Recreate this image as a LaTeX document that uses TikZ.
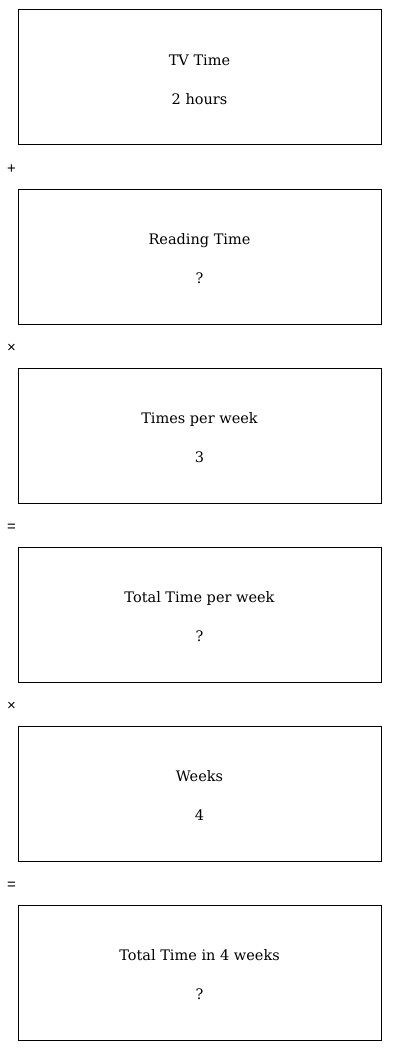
\documentclass[tikz,border=0pt]{standalone}
\usepackage{fontspec}
\setmainfont{DejaVu Serif}
\newfontfamily\opfont{Liberation Sans}
\usetikzlibrary{positioning,calc}
\tikzset{
  qbox/.style={rectangle,draw,line width=1pt,minimum width=363pt,minimum height=135pt,align=center,font=\fontsize{14.5}{18}\selectfont},
  opsym/.style={inner sep=0pt,font=\opfont\fontsize{15}{17}\selectfont}
}

\begin{document}
\begin{tikzpicture}[node distance=43pt]
\useasboundingbox (0,0) rectangle (400pt,-1051pt);
\node[qbox] (tv) at (199.5pt,-77.5pt) {\\[-3pt]TV Time\\[21pt]2 hours};
\node[qbox, below=of tv] (read) {\\[-3pt]Reading Time\\[21pt]?};
\node[qbox, below=of read] (times) {\\[-3pt]Times per week\\[21pt]3};
\node[qbox, below=of times] (week) {\\[-3pt]Total Time per week\\[21pt]?};
\node[qbox, below=of week] (weeks) {\\[-3pt]Weeks\\[21pt]4};
\node[qbox, below=of weeks] (total) {\\[-3pt]Total Time in 4 weeks\\[21pt]?};
\node[opsym] (plus) at ($(tv.south west)+(-6pt,-24pt)$) {+};
\node[opsym] (mul1) at ($(read.south west)+(-6pt,-24pt)$) {×};
\node[opsym] (eq1) at ($(times.south west)+(-6pt,-24pt)$) {=};
\node[opsym] (mul2) at ($(week.south west)+(-6pt,-24pt)$) {×};
\node[opsym] (eq2) at ($(weeks.south west)+(-6pt,-24pt)$) {=};
\end{tikzpicture}
\end{document}
